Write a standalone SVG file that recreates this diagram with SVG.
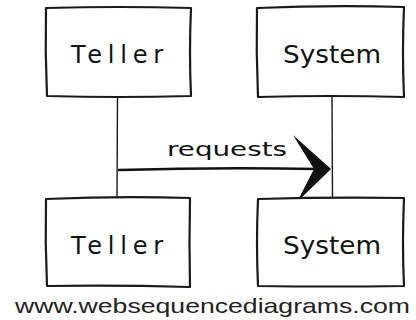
<svg xmlns="http://www.w3.org/2000/svg" width="416" height="320" viewBox="0 0 416 320">
  <style>
    .box { fill: #ffffff; stroke: #1a1a1a; stroke-width: 2.2; stroke-linejoin: round; }
    .life { fill: none; stroke: #1a1a1a; stroke-width: 1.4; }
    .label { font-family: "DejaVu Sans", "Liberation Sans", sans-serif; font-size: 24px; fill: #111111; }
    .msg { font-family: "DejaVu Sans", "Liberation Sans", sans-serif; font-size: 20px; fill: #111111; }
    .foot { font-family: "Liberation Sans", Arial, sans-serif; font-size: 21px; fill: #222222; }
  </style>
  <rect width="416" height="320" fill="#ffffff"/>

  <!-- lifelines and the message arrow -->
  <g id="connectors">
    <path class="life" d="M117.5 97 L117 198"/>
    <path class="life" d="M332 97 L332.5 198"/>
    <path d="M119 170 Q220 167 318 169" fill="none" stroke="#111111" stroke-width="2.6" stroke-linecap="round"/>
    <path d="M293 135 L331 169 L297 202 L314 169 Z" fill="#111111"/>
    <text class="msg" x="167" y="156" textLength="120" lengthAdjust="spacingAndGlyphs">requests</text>
  </g>

  <g id="teller-top">
    <path class="box" d="M46 8 Q120 6 191 8 Q189 52 191 96 Q118 98 47 96 Q45 52 46 8 Z"/>
    <text class="label" x="71" y="63" textLength="92" lengthAdjust="spacing">Teller</text>
  </g>

  <g id="system-top">
    <path class="box" d="M257 8 Q330 5 404 7 Q402 52 404 97 Q330 95 258 97 Q256 52 257 8 Z"/>
    <text class="label" x="283" y="63" textLength="98" lengthAdjust="spacingAndGlyphs">System</text>
  </g>

  <g id="teller-bottom">
    <path class="box" d="M46 199 Q118 196 190 198 Q189 243 190 287 Q118 285 47 286 Q45 243 46 199 Z"/>
    <text class="label" x="71" y="254" textLength="92" lengthAdjust="spacing">Teller</text>
  </g>

  <g id="system-bottom">
    <path class="box" d="M258 199 Q330 197 404 198 Q402 243 404 286 Q330 287 258 286 Q256 243 258 199 Z"/>
    <text class="label" x="283" y="254" textLength="98" lengthAdjust="spacingAndGlyphs">System</text>
  </g>

  <text class="foot" x="15" y="313" textLength="395" lengthAdjust="spacingAndGlyphs">www.websequencediagrams.com</text>
</svg>
